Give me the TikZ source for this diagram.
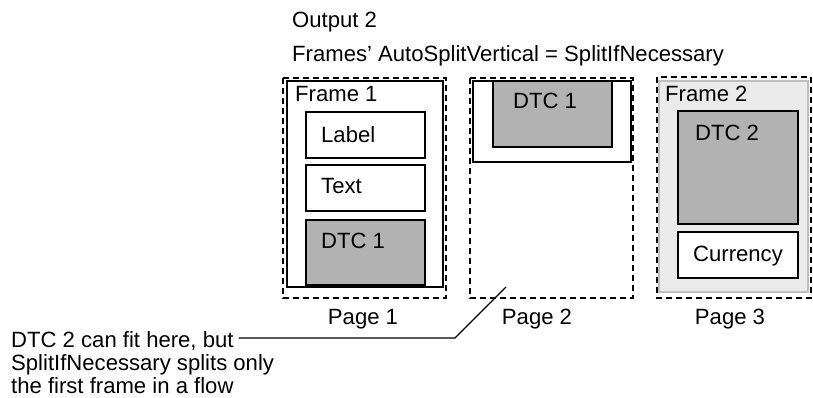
\documentclass[tikz,border=0pt]{standalone}
\usepackage{fontspec}
\setmainfont{Liberation Sans}
\begin{document}
\begin{tikzpicture}[x=1pt,y=-1pt,
  txt/.style={inner sep=0pt,anchor=base west,font=\fontsize{22.1}{23}\selectfont},
  ctxt/.style={inner sep=0pt,anchor=base,font=\fontsize{22.1}{23}\selectfont},
  pagebox/.style={draw,line width=1.5pt,dash pattern=on 6pt off 4pt},
  framebox/.style={draw,line width=1.4pt,fill=white},
  itembox/.style={draw,line width=1.4pt,fill=white},
  dtcbox/.style={draw,line width=1.4pt,fill=black!30},
  lightframe/.style={draw=black!25,line width=1.4pt,fill=black!8},
  conn/.style={draw,line width=1.1pt}]
\useasboundingbox (0,0) rectangle (813,397);
% titles
\node[txt] (t1) at (292,27) {Output 2};
\node[txt] (t2) at (292,61) {Frames’ AutoSplitVertical = SplitIfNecessary};
% Page 1
\draw[framebox] (287,81) rectangle (443,287);
\draw[itembox] (306,112) rectangle (425,158);
\draw[itembox] (306,165) rectangle (425,211);
\draw[dtcbox] (306,220) rectangle (425,285);
\draw[pagebox] (283,78) rectangle (446,298);
\node[txt] (f1) at (295,101) {Frame 1};
\node[txt] (lab) at (321,142) {Label};
\node[txt] (tex) at (321,193) {Text};
\node[txt] (d1a) at (321,248) {DTC 1};
\node[ctxt] (p1) at (363,324) {Page 1};
% Page 2
\draw[framebox] (473,81) rectangle (631,162);
\draw[dtcbox] (493,81) rectangle (612,147);
\draw[pagebox] (470,78) rectangle (633,298);
\node[txt] (d1b) at (513,108) {DTC 1};
\node[ctxt] (p2) at (537,324) {Page 2};
% Page 3
\draw[lightframe] (659,81) rectangle (808,292);
\draw[dtcbox] (678,111) rectangle (798,224);
\draw[itembox] (678,232) rectangle (798,278);
\draw[pagebox] (657,77) rectangle (811,298);
\node[txt] (f2) at (665,101) {Frame 2};
\node[txt] (d2) at (695,140) {DTC 2};
\node[ctxt] (cur) at (738,261) {Currency};
\node[ctxt] (p3) at (730,324) {Page 3};
% annotation
\node[txt] (a1) at (11,347) {DTC 2 can fit here, but};
\node[txt] (a2) at (11,370) {SplitIfNecessary splits only};
\node[txt] (a3) at (11,393) {the first frame in a flow};
\coordinate (bend) at (455,338);
\coordinate (tip) at (506,287);
\draw[conn] (a1.east |- bend) ++(5,0) -- (bend) -- (tip);
\end{tikzpicture}
\end{document}
